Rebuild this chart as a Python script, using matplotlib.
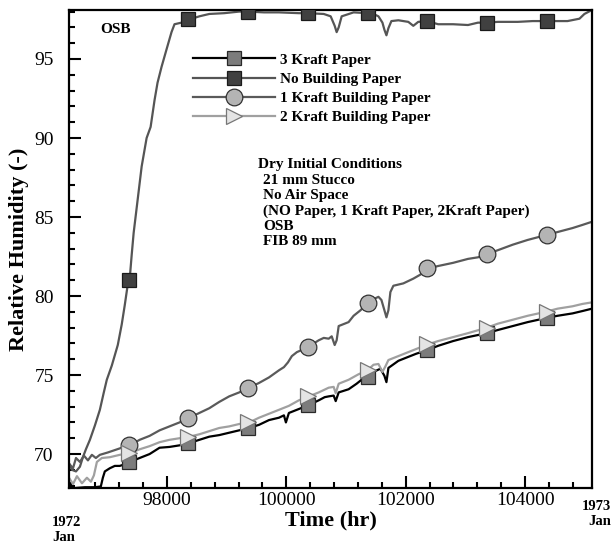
import matplotlib
matplotlib.use("Agg")
import matplotlib.pyplot as plt
from matplotlib.lines import Line2D
from matplotlib.ticker import MultipleLocator

plt.rcParams["font.family"] = ["Liberation Serif", "DejaVu Serif"]

# ---- data (time in hr, RH in %) ----
# No Building Paper
nb_t = [96360, 96410, 96477, 96543, 96593, 96643, 96710, 96793, 96877, 96943,
        96993, 97077, 97177, 97243, 97293, 97343, 97377, 97410, 97443, 97510,
        97577, 97660, 97727, 97793, 97843, 97910, 97993, 98077, 98127, 98243,
        98377, 98543, 98710, 98960, 99210, 99360, 99627, 99877, 100210, 100360,
        100627, 100743, 100810, 100843, 100877, 100927, 101127, 101360, 101460,
        101543, 101610, 101643, 101677, 101710, 101760, 101877, 102043, 102127,
        102210, 102360, 102543, 102793, 103043, 103210, 103360, 103543, 103877,
        104127, 104360, 104710, 104910, 104993, 105120]
nb_rh = [69.4, 69.0, 68.9, 69.2, 69.8, 70.3, 70.9, 71.8, 72.8, 73.9,
         74.7, 75.6, 76.9, 78.2, 79.4, 80.7, 81.1, 82.6, 84.0, 86.1,
         88.2, 90.0, 90.7, 92.4, 93.5, 94.5, 95.6, 96.7, 97.2, 97.3,
         97.5, 97.7, 97.85, 97.9, 98.0, 98.0, 97.95, 97.95, 97.9, 97.9,
         97.85, 97.7, 97.1, 96.7, 97.0, 97.7, 97.95, 97.9, 97.85,
         97.7, 97.3, 96.85, 96.5, 96.95, 97.4, 97.45, 97.35, 97.1,
         97.35, 97.4, 97.2, 97.2, 97.15, 97.3, 97.3, 97.35, 97.35,
         97.4, 97.4, 97.4, 97.55, 97.85, 98.1]

# 1 Kraft Building Paper
k1_t = [96360, 96427, 96477, 96543, 96610, 96677, 96743, 96810, 96877, 97010,
        97127, 97243, 97377, 97543, 97710, 97877, 98043, 98210, 98377, 98543,
        98710, 98877, 99043, 99210, 99377, 99543, 99710, 99877, 99960, 100027,
        100093, 100177, 100327, 100460, 100543, 100627, 100710, 100760, 100810,
        100843, 100877, 101043, 101127, 101243, 101360, 101460, 101543, 101593,
        101643, 101677, 101710, 101743, 101793, 101960, 102127, 102243, 102377,
        102543, 102793, 103043, 103210, 103360, 103543, 103793, 104043, 104343,
        104543, 104793, 104960, 105120]
k1_rh = [69.4, 69.1, 69.75, 69.5, 69.9, 69.6, 69.95, 69.75, 69.95, 70.1,
         70.25, 70.4, 70.55, 70.9, 71.15, 71.5, 71.75, 72.0, 72.3, 72.6,
         72.9, 73.3, 73.65, 73.9, 74.2, 74.5, 74.85, 75.3, 75.5, 75.8,
         76.2, 76.45, 76.7, 77.0, 77.2, 77.35, 77.3, 77.45, 76.9,
         77.2, 78.1, 78.35, 78.75, 79.1, 79.55, 79.8, 79.95, 79.75,
         79.1, 78.65, 79.1, 80.25, 80.65, 80.8, 81.1, 81.35, 81.75,
         81.9, 82.1, 82.35, 82.45, 82.65, 82.9, 83.25, 83.55, 83.85,
         84.05, 84.3, 84.5, 84.7]

# 3 Kraft Paper
k3_t = [96360, 96460, 96627, 96793, 96893, 96927, 96960, 97043, 97127, 97210,
        97293, 97377, 97543, 97710, 97877, 98043, 98210, 98377, 98543, 98710,
        98877, 99043, 99210, 99377, 99543, 99710, 99877, 99960, 99993, 100043,
        100210, 100377, 100543, 100643, 100710, 100793, 100827, 100877, 101043,
        101177, 101293, 101360, 101460, 101577, 101643, 101677, 101710, 101877,
        102043, 102177, 102377, 102543, 102793, 103043, 103360, 103543, 103793,
        104043, 104343, 104543, 104793, 104960, 105120]
k3_rh = [67.95, 67.85, 67.9, 67.9, 67.95, 68.5, 68.9, 69.1, 69.25, 69.25,
         69.35, 69.5, 69.75, 70.0, 70.4, 70.45, 70.55, 70.7, 70.9, 71.1,
         71.2, 71.35, 71.5, 71.65, 71.85, 72.15, 72.3, 72.45, 72.0, 72.6,
         72.85, 73.1, 73.4, 73.6, 73.65, 73.7, 73.35, 73.9, 74.1,
         74.45, 74.8, 74.9, 75.2, 75.4, 74.95, 74.55, 75.45, 75.9,
         76.15, 76.35, 76.6, 76.85, 77.15, 77.4, 77.65, 77.85, 78.1,
         78.35, 78.6, 78.75, 78.9, 79.05, 79.2]

# 2 Kraft Building Paper
k2_t = [96360, 96427, 96493, 96577, 96660, 96727, 96777, 96827, 96910, 97043,
        97210, 97377, 97543, 97710, 97877, 98043, 98210, 98377, 98543, 98710,
        98877, 99043, 99210, 99377, 99543, 99710, 99877, 100043, 100210, 100377,
        100543, 100710, 100793, 100827, 100877, 101043, 101210, 101360, 101460,
        101543, 101610, 101660, 101710, 101877, 102043, 102210, 102377, 102543,
        102793, 103043, 103360, 103543, 103793, 104043, 104343, 104543, 104793,
        104960, 105120]
k2_rh = [68.5, 68.1, 68.6, 68.15, 68.5, 68.25, 68.65, 69.5, 69.75, 69.8,
         69.95, 70.05, 70.3, 70.5, 70.75, 70.9, 71.0, 71.1, 71.25, 71.45,
         71.65, 71.75, 71.9, 72.0, 72.3, 72.55, 72.8, 73.05, 73.4, 73.65,
         73.9, 74.2, 74.25, 73.85, 74.45, 74.7, 75.05, 75.3, 75.65,
         75.7, 75.2, 75.55, 75.95, 76.2, 76.45, 76.7, 76.95, 77.15,
         77.4, 77.65, 78.0, 78.25, 78.5, 78.75, 79.0, 79.2, 79.35,
         79.5, 79.6]

# symbols every 1000 hr
mk_t = [97360, 98360, 99360, 100360, 101360, 102360, 103360, 104360]
nb_mk = [81.0, 97.5, 98.0, 97.9, 97.9, 97.4, 97.3, 97.4]
k1_mk = [70.55, 72.3, 74.2, 76.75, 79.55, 81.75, 82.65, 83.85]
k3_mk = [69.5, 70.7, 71.65, 73.1, 74.9, 76.6, 77.65, 78.6]
k2_mk = [70.05, 71.1, 72.0, 73.65, 75.3, 76.95, 78.0, 79.0]

labels = ["3 Kraft Paper", "No Building Paper",
          "1 Kraft Building Paper", "2 Kraft Building Paper"]

fig = plt.figure(figsize=(6.15, 5.44), dpi=100)
ax = fig.add_axes([0.1122, 0.1029, 0.8504, 0.8787])

styles = [
    # (t, rh, mk, line colour, marker, face, edge, size)
    (k3_t, k3_rh, k3_mk, "black", "s", "#7c7c7c", "#2a2a2a", 10),
    (nb_t, nb_rh, nb_mk, "#555555", "s", "#404040", "#1a1a1a", 10),
    (k1_t, k1_rh, k1_mk, "#5a5a5a", "o", "#b4b4b4", "#333333", 12),
    (k2_t, k2_rh, k2_mk, "#a0a0a0", ">", "#e4e4e4", "#777777", 11),
]
draw_order = [0, 3, 2, 1]
for i in draw_order:
    t, rh, mk, c, m, fc, ec, ms = styles[i]
    ax.plot(t, rh, color=c, lw=1.6, zorder=2 + i * 0.1)
for i in draw_order:
    t, rh, mk, c, m, fc, ec, ms = styles[i]
    ax.plot(mk_t, mk, ls="none", marker=m, ms=ms, mfc=fc, mec=ec, mew=0.9,
            zorder=4 + i * 0.1)

handles = [Line2D([], [], color=s[3], lw=1.6, marker=s[4], ms=s[7],
                  mfc=s[5], mec=s[6], mew=0.9) for s in styles]
leg = ax.legend(handles, labels, loc="upper left", bbox_to_anchor=(0.237, 0.91),
                frameon=False, borderpad=0, borderaxespad=0, handlelength=5.4,
                handletextpad=0.3, labelspacing=0.36, markerscale=1.0,
                prop={"family": "Liberation Serif", "weight": "bold", "size": 11})

ax.set_xlim(96360, 105120)
ax.set_ylim(67.85, 98.1)
ax.xaxis.set_major_locator(MultipleLocator(2000))
ax.xaxis.set_minor_locator(MultipleLocator(400))
ax.yaxis.set_major_locator(MultipleLocator(5))
ax.yaxis.set_minor_locator(MultipleLocator(1))
ax.tick_params(which="both", direction="in", top=False, right=False, width=1.5)
ax.tick_params(which="major", length=8.5, labelsize=14)
ax.tick_params(which="minor", length=4.3)
ax.tick_params(axis="y", pad=11)
ax.tick_params(axis="x", pad=3)
for sp in ax.spines.values():
    sp.set_linewidth(1.6)

ax.set_xlabel("Time (hr)", fontsize=16, fontweight="bold", labelpad=1)
ax.set_ylabel("Relative Humidity (-)", fontsize=16, fontweight="bold", labelpad=4)

bold = {"fontweight": "bold", "fontsize": 11}
ax.text(0.06, 0.96, "OSB", transform=ax.transAxes, va="center", **bold)

note_x0, note_x1 = 0.361, 0.371
note_lines = ["Dry Initial Conditions", "21 mm Stucco", "No Air Space",
              "(NO Paper, 1 Kraft Paper, 2Kraft Paper)", "OSB", "FIB 89 mm"]
for k, line in enumerate(note_lines):
    y = 0.676 - k * 0.032
    ax.text(note_x0 if k == 0 else note_x1, y, line, transform=ax.transAxes,
            va="center", ha="left", **bold)

fig.text(52 / 615, 1 - 530 / 544, "1972\nJan", ha="left", va="center",
         fontsize=10.5, fontweight="bold", linespacing=1.15)
fig.text(611 / 615, 1 - 514 / 544, "1973\nJan", ha="right", va="center",
         fontsize=10.5, fontweight="bold", linespacing=1.15)

fig.savefig("out.png", dpi=100)
